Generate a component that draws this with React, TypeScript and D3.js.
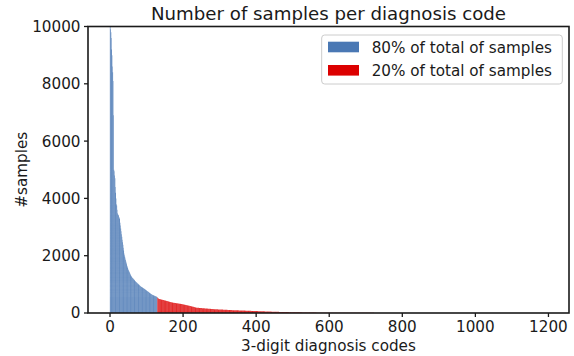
import React from "react";
import * as d3 from "d3";

// Number of samples for the codes covering 80% of all samples (sorted, descending)
const blueValues: number[] = [
  11500, 10200, 9900, 9800, 9600, 9200, 9000, 8600, 8400, 8100,
  6900, 5000, 4950, 4800, 4700, 4400, 4200, 4000, 3800, 3750,
  3600, 3480, 3450, 3420, 3400, 3350, 3320, 3280, 3150, 3050,
  2950, 2850, 2750, 2660, 2560, 2470, 2380, 2280, 2180, 2080,
  2020, 1960, 1900, 1850, 1800, 1750, 1700, 1650, 1610, 1570,
  1530, 1500, 1470, 1440, 1410, 1380, 1350, 1320, 1300, 1280,
  1260, 1240, 1225, 1210, 1195, 1180, 1165, 1150, 1135, 1120,
  1105, 1090, 1078, 1066, 1054, 1042, 1030, 1018, 1006, 994,
  982, 970, 958, 946, 934, 920, 912, 904, 896, 888,
  880, 870, 860, 852, 844, 836, 826, 816, 806, 798,
  790, 780, 770, 760, 750, 740, 730, 720, 710, 700,
  690, 680, 668, 660, 652, 645, 638, 632, 626, 620,
  614, 608, 602, 596, 590, 584, 578, 572, 566, 560,
];

// Codes covering the remaining 20% (head listed one by one)
const redHeadValues: number[] = [
  540, 528, 515, 505, 498, 492, 488, 484, 480, 476,
  472, 468, 465, 462, 459, 456, 453, 450, 446, 443,
  439, 436, 432, 429, 425, 422, 418, 415, 411, 408,
  404, 400, 397, 393, 390, 386, 383, 379, 376, 372,
  369, 366, 363, 360, 358, 356, 354, 352, 350, 348,
  346, 344, 342, 340, 338, 336, 334, 332, 330, 328,
  326, 324, 322, 320, 318, 315, 312, 310, 308, 306,
  303, 300, 297, 294, 291, 288, 285, 282, 279, 276,
  273, 270, 267, 264, 261, 258, 255, 252, 249, 246,
  243, 240, 237, 234, 231, 228, 225, 222, 219, 216,
  212, 208, 204, 200, 196, 192, 188, 185, 184, 183,
  182, 181, 180, 179, 178, 177, 176, 175, 174, 173,
  172, 171, 170, 168, 167, 166, 165, 164, 163, 162,
  161, 160, 158, 157, 156, 155, 154, 153, 152, 151,
  150, 148, 147, 146, 145, 144, 143, 142, 141, 140,
  139, 138, 137, 136, 135, 134, 133, 132, 132, 131,
  130, 130, 129, 128, 128, 127, 126, 126, 125, 124,
  124, 123, 122, 122, 121, 120, 120, 119, 118, 118,
  117, 116, 116, 115, 114, 114, 113, 112, 112, 111,
  110, 110, 109, 108, 108, 107, 106, 106, 105, 104,
  104, 103, 102, 102, 101, 100, 100, 99, 99, 98,
  98, 97, 97, 96, 96, 95, 95, 94, 94, 93,
  93, 92, 92, 91, 91, 90, 90, 89, 89, 88,
  88, 87, 87, 86, 86, 85, 85, 84, 84, 83,
  83, 82, 82, 81, 81, 80, 80, 79, 79, 78,
  78, 77, 77, 76, 76, 75, 75, 74, 74, 73,
  73, 72, 72, 71, 71, 70, 70, 70, 69, 69,
];

// Long tail of the 20% group: [samples, number of codes with that many samples]
const redTailRuns: [number, number][] = [
  [68, 2], [67, 2], [66, 2], [65, 2], [64, 2], [63, 2], [62, 2], [61, 2],
  [60, 2], [59, 2], [58, 2], [57, 2], [56, 2], [55, 2], [54, 2], [53, 2],
  [52, 2], [51, 2], [50, 2], [49, 2], [48, 2], [47, 2], [46, 2], [45, 2],
  [44, 3], [43, 3], [42, 3], [41, 3], [40, 3], [39, 3], [38, 3], [37, 3],
  [36, 3], [35, 3], [34, 3], [33, 3], [32, 3], [31, 3], [30, 3],
  [29, 4], [28, 4], [27, 4], [26, 4], [25, 4], [24, 4], [23, 4], [22, 4],
  [21, 4], [20, 4],
  [19, 5], [18, 5], [17, 5], [16, 5], [15, 6], [14, 6], [13, 7], [12, 8],
  [11, 9], [10, 10],
  [9, 14], [8, 18], [7, 24], [6, 30], [5, 38], [4, 50], [3, 70], [2, 110],
  [1, 244],
];

const xTicks = [0, 200, 400, 600, 800, 1000, 1200];
const yTicks = [0, 2000, 4000, 6000, 8000, 10000];
const legendLabels = ["80% of total of samples", "20% of total of samples"];
const title = "Number of samples per diagnosis code";
const xLabel = "3-digit diagnosis codes";
const yLabel = "#samples";

const BLUE = "#4a78b4";
const RED = "#dc0000";
const FONT = "DejaVu Sans, sans-serif";
const FS = 15.2;

export default function App() {
  const W = 574, H = 356;
  const m = { left: 88, right: 569, top: 26.5, bottom: 313 };

  const redValues: number[] = [...redHeadValues];
  redTailRuns.forEach(([v, c]) => {
    for (let i = 0; i < c; i++) redValues.push(v);
  });
  const bars = [
    ...blueValues.map((v) => ({ v, g: 0 })),
    ...redValues.map((v) => ({ v, g: 1 })),
  ].map((d, i) => ({ ...d, i }));
  const n = bars.length;
  const bw = 0.8;
  const lo = -bw / 2, hi = n - 1 + bw / 2;
  const pad = (hi - lo) * 0.05;

  const x = d3.scaleLinear().domain([lo - pad, hi + pad]).range([m.left, m.right]);
  const y = d3.scaleLinear().domain([0, 10000]).range([m.bottom, m.top]);

  const groupPath = (g: number) => {
    const p = d3.path();
    bars
      .filter((d) => d.g === g)
      .forEach((d) => {
        const x0 = x(d.i - bw / 2);
        const x1 = x(d.i + bw / 2);
        const yt = y(d.v);
        p.rect(x0, yt, x1 - x0, m.bottom - yt);
      });
    return p.toString();
  };

  const cx = (m.left + m.right) / 2;
  const cy = (m.top + m.bottom) / 2;

  return (
    <svg width={W} height={H} style={{ position: "absolute", left: 0, top: 0 }} fontFamily={FONT}>
      <rect width={W} height={H} fill="white" />
      <defs>
        <clipPath id="plot">
          <rect x={m.left} y={m.top} width={m.right - m.left} height={m.bottom - m.top} />
        </clipPath>
      </defs>
      <g clipPath="url(#plot)">
        <path d={groupPath(0)} fill={BLUE} />
        <path d={groupPath(1)} fill={RED} />
      </g>
      {/* spines */}
      <rect
        x={m.left}
        y={m.top}
        width={m.right - m.left}
        height={m.bottom - m.top}
        fill="none"
        stroke="#1a1a1a"
        strokeWidth={1.6}
      />
      {/* y ticks */}
      {yTicks.map((t) => (
        <g key={t}>
          <line x1={m.left - 4} x2={m.left} y1={y(t)} y2={y(t)} stroke="#1a1a1a" strokeWidth={1.3} />
          <text x={m.left - 7.5} y={y(t)} dy="0.36em" textAnchor="end" fontSize={FS} fill="#1a1a1a">
            {t}
          </text>
        </g>
      ))}
      {/* x ticks */}
      {xTicks.map((t) => (
        <g key={t}>
          <line x1={x(t)} x2={x(t)} y1={m.bottom} y2={m.bottom + 4} stroke="#1a1a1a" strokeWidth={1.3} />
          <text x={x(t)} y={m.bottom + 18.5} textAnchor="middle" fontSize={FS} fill="#1a1a1a">
            {t}
          </text>
        </g>
      ))}
      <text x={cx} y={350.5} textAnchor="middle" fontSize={FS} fill="#1a1a1a">
        {xLabel}
      </text>
      <text
        transform={`translate(27,${cy}) rotate(-90)`}
        textAnchor="middle"
        fontSize={FS}
        fill="#1a1a1a"
      >
        {yLabel}
      </text>
      <text x={cx} y={20} textAnchor="middle" fontSize={18.2} fill="#1a1a1a">
        {title}
      </text>
      {/* legend */}
      <g>
        <rect x={321.7} y={35} width={240.6} height={49} rx={3} fill="white" fillOpacity={0.8} stroke="#cccccc" strokeWidth={1} />
        {legendLabels.map((l, k) => (
          <g key={l}>
            <rect x={328} y={41.7 + k * 23.3} width={31} height={10.6} fill={k === 0 ? BLUE : RED} />
            <text x={371.7} y={52.5 + k * 23.3} fontSize={FS} fill="#1a1a1a">
              {l}
            </text>
          </g>
        ))}
      </g>
    </svg>
  );
}
